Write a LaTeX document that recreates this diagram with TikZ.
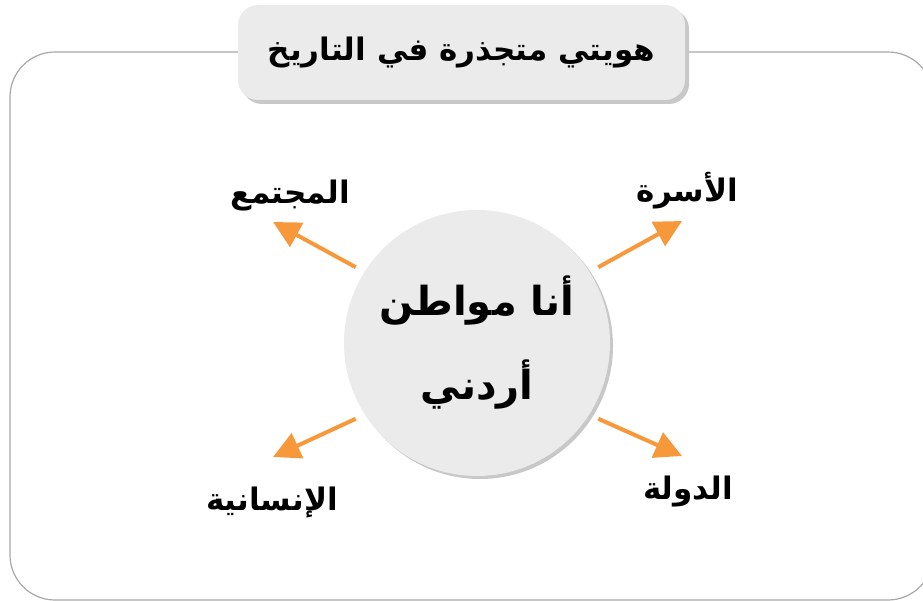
\documentclass[tikz,border=0pt]{standalone}
\usepackage{fontspec}
\newfontfamily\arabicfont[Script=Arabic]{DejaVu Sans}
\TeXXeTstate=1
\usetikzlibrary{arrows.meta,shadows}
\definecolor{arrorange}{HTML}{F7993B}
\definecolor{boxgray}{HTML}{EBEBEB}
\definecolor{shadowgray}{HTML}{C8C8C8}
\definecolor{framegray}{HTML}{A8A8A8}
\begin{document}
\begin{tikzpicture}[x=1pt,y=-1pt,
  lbl/.style={font=\arabicfont\bfseries\fontsize{31}{36}\selectfont, inner sep=0pt, text=black},
  conn/.style={draw=arrorange, line width=4pt, -{Triangle[length=27pt,width=27pt]}},
  titlebox/.style={rounded corners=20pt, fill=boxgray, minimum width=447pt, minimum height=95pt,
     drop shadow={shadow xshift=4pt, shadow yshift=-4pt, fill=shadowgray, opacity=1},
     font=\arabicfont\bfseries\fontsize{31}{38}\selectfont},
  hub/.style={circle, fill=boxgray, minimum size=266pt, outer sep=10pt,
     drop shadow={shadow xshift=3pt, shadow yshift=-3pt, fill=shadowgray, opacity=1},
     align=center, font=\arabicfont\bfseries\fontsize{40}{84}\selectfont}]
\useasboundingbox (0,0) rectangle (923,601);
% frame
\draw[framegray, line width=1.2pt, rounded corners=45pt] (10,52) rectangle (933,600);
% title
\node[titlebox] (title) at (461.5,52.5) {\raisebox{-5pt}{\beginR هويتي متجذرة في التاريخ\endR}};
% hub
\node[hub] (c) at (477,343) {\beginR أنا مواطن\endR\\\beginR أردني\endR};
% tips
\coordinate (tl) at (273,222);
\coordinate (tr) at (682,221);
\coordinate (bl) at (273,457);
\coordinate (br) at (682,456);
\draw[conn] (c.148) -- (tl);
\draw[conn] (c.32) -- (tr);
\draw[conn] (c.212) -- (bl);
\draw[conn] (c.328) -- (br);
% labels
\node[lbl] (l1) at (290,196) {\beginR المجتمع\endR};
\node[lbl] (l2) at (687,191) {\beginR الأسرة\endR};
\node[lbl] (l3) at (272,503) {\beginR الإنسانية\endR};
\node[lbl] (l4) at (688,492) {\beginR الدولة\endR};
\end{tikzpicture}
\end{document}
